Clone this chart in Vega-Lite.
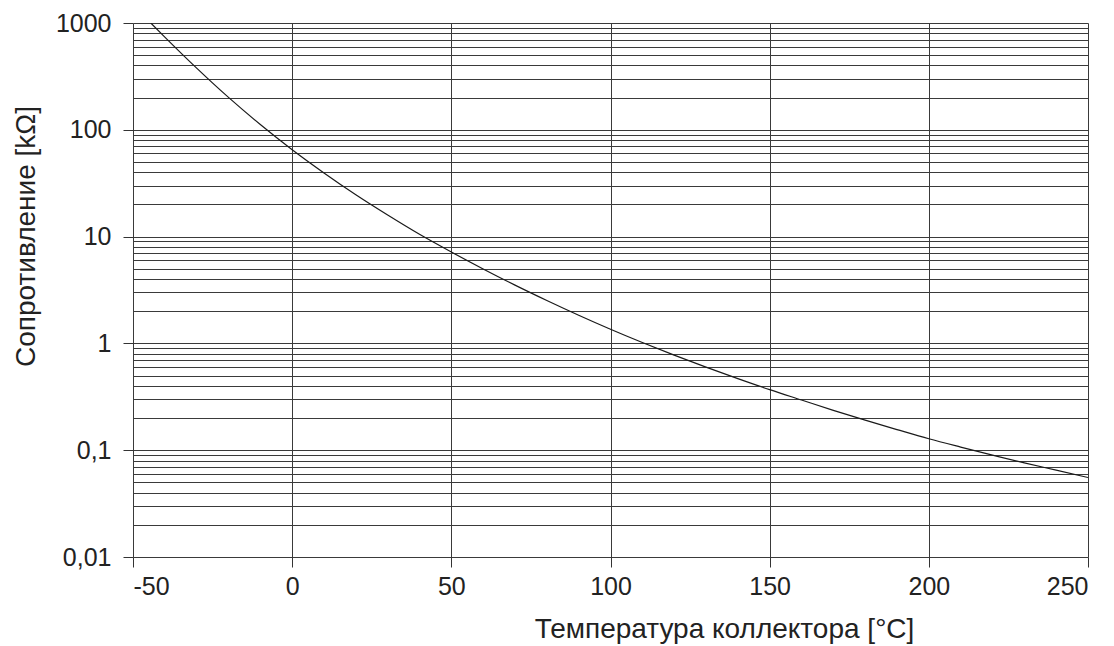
{
  "$schema": "https://vega.github.io/schema/vega-lite/v6.json",
  "autosize": "none",
  "width": 955,
  "height": 534,
  "padding": {"left": 133, "top": 23, "right": 26, "bottom": 89},
  "background": "white",
  "config": {
    "view": {"stroke": null},
    "font": "Liberation Sans",
    "axis": {"labelFont": "Liberation Sans", "titleFont": "Liberation Sans", "labelColor": "#222", "titleColor": "#222", "titleFontWeight": "normal"}
  },
  "data": {
    "values": [
      {"t": -44.4, "r": 1000},
      {"t": -40, "r": 738},
      {"t": -30, "r": 378},
      {"t": -20, "r": 201},
      {"t": -10, "r": 112},
      {"t": 0, "r": 65},
      {"t": 10, "r": 39.4},
      {"t": 20, "r": 24.6},
      {"t": 30, "r": 15.9},
      {"t": 40, "r": 10.5},
      {"t": 50, "r": 7.17},
      {"t": 60, "r": 4.98},
      {"t": 70, "r": 3.51},
      {"t": 80, "r": 2.52},
      {"t": 90, "r": 1.835},
      {"t": 100, "r": 1.357},
      {"t": 110, "r": 1.019},
      {"t": 120, "r": 0.776},
      {"t": 130, "r": 0.599},
      {"t": 140, "r": 0.468},
      {"t": 150, "r": 0.369},
      {"t": 160, "r": 0.295},
      {"t": 170, "r": 0.236},
      {"t": 180, "r": 0.191},
      {"t": 190, "r": 0.156},
      {"t": 200, "r": 0.128},
      {"t": 210, "r": 0.107},
      {"t": 220, "r": 0.09},
      {"t": 230, "r": 0.076},
      {"t": 240, "r": 0.065},
      {"t": 250, "r": 0.0555}
    ]
  },
  "mark": {"type": "line", "interpolate": "monotone", "color": "#1a1a1a", "strokeWidth": 1.2, "clip": true},
  "encoding": {
    "x": {
      "field": "t", "type": "quantitative",
      "scale": {"domain": [-50, 250], "nice": false, "zero": false},
      "axis": {
        "values": [-50, 0, 50, 100, 150, 200, 250],
        "labelExpr": "toString(datum.value)",
        "title": "Температура коллектора [°C]",
        "titleFontSize": 28,
        "titleX": 591, "titleY": 72, "titleBaseline": "middle", "titleAlign": "center", "titleAnchor": null,
        "labelFontSize": 25, "labelPadding": 7,
        "tickSize": 10, "tickColor": "#333", "tickWidth": 1,
        "domain": false,
        "grid": true, "gridColor": "#3a3a3a", "gridWidth": 1, "gridOpacity": 1
      }
    },
    "y": {
      "field": "r", "type": "quantitative",
      "scale": {"type": "log", "domain": [0.01, 1000], "nice": false},
      "axis": {
        "values": [0.01,0.02,0.03,0.04,0.05,0.06,0.07,0.08,0.09,0.1,0.2,0.3,0.4,0.5,0.6,0.7,0.8,0.9,1,2,3,4,5,6,7,8,9,10,20,30,40,50,60,70,80,90,100,200,300,400,500,600,700,800,900,1000],
        "labelExpr": "indexof([0.01,0.1,1,10,100,1000], datum.value) >= 0 ? replace(toString(datum.value), '.', ',') : ''",
        "tickOpacity": {"condition": {"test": "indexof([0.01,0.1,1,10,100,1000], datum.value) >= 0", "value": 1}, "value": 0},
        "title": "Сопротивление [kΩ]",
        "titleFontSize": 28,
        "titleX": -107, "titleY": 213, "titleAngle": -90, "titleBaseline": "middle", "titleAlign": "center", "titleAnchor": null,
        "labelFontSize": 25, "labelPadding": 12, "labelOverlap": false, "labelBound": false, "labelFlush": false,
        "tickSize": 10, "tickColor": "#333", "tickWidth": 1,
        "domain": false,
        "grid": true, "gridColor": "#3a3a3a", "gridWidth": 1, "gridOpacity": 1
      }
    }
  }
}
